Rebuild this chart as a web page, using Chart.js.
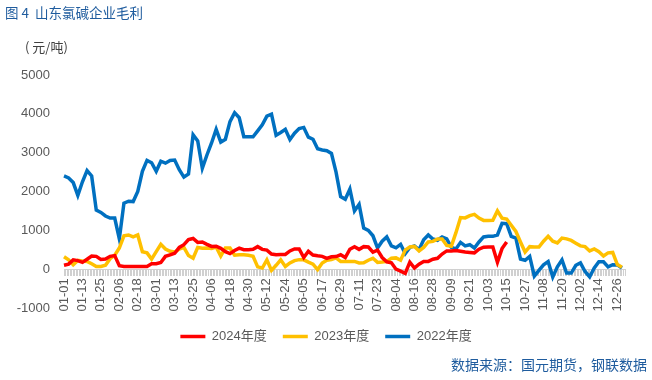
<!DOCTYPE html>
<html>
<head>
<meta charset="utf-8">
<script src="https://cdn.jsdelivr.net/npm/chart.js@4.4.1/dist/chart.umd.min.js"></script>
<style>
  html, body { margin: 0; padding: 0; background: #fff; }
  #wrap { position: relative; width: 652px; height: 380px; }
  #wrap canvas { position: absolute; left: 0; top: 0; }
  .txt { position: absolute; white-space: nowrap; font-family: "Noto Sans CJK SC", sans-serif; line-height: 1; }
  #title { left: 5px; top: 6px; font-size: 13.5px; color: #1F5C9E; }
  #unit { left: 25px; top: 40px; font-size: 13px; color: #404040; }
  #source { right: 5px; top: 357px; font-size: 14px; color: #1F5C9E; }
</style>
</head>
<body>
<div id="wrap">
  <canvas id="chart" width="652" height="380"></canvas>
  <div class="txt" id="title">图 4&nbsp; 山东氯碱企业毛利</div>
  <div class="txt" id="unit">( 元/吨)</div>
  <div class="txt" id="source">数据来源：国元期货，钢联数据</div>
</div>
<script>
// values read every 3 days, starting 01-01
const STEP = 3;
const monthDays = [31, 29, 31, 30, 31, 30, 31, 31, 30, 31, 30, 31];
const seriesNames = ['2024年度', '2023年度', '2022年度'];

const red2024 = [
  100, 130, 240, 220, 175, 255, 340, 330, 250, 260,
  330, 350, 90, 70, 70, 70, 70, 70, 70, 140,
  140, 170, 330, 370, 410, 560, 630, 760, 790, 690,
  700, 640, 585, 590, 535, 450, 400, 480, 540, 500,
  500, 510, 580, 510, 490, 390, 370, 380, 380, 470,
  520, 520, 300, 460, 365, 345, 330, 280, 320, 325,
  370, 300, 515, 580, 510, 580, 570, 440, 490, 300,
  190, 165, 0, -50, -110, 180, 30, 130, 200, 200,
  255, 280, 390, 470, 470, 480, 460, 440, 430, 420,
  515, 565, 570, 570, 180, 530, 700
];

const yellow2023 = [
  320, 240, 115, 225, 210, 200, 140, 70, 70, 100,
  270, 360, 545, 860, 880, 830, 880, 450, 420, 260,
  450, 640, 520, 460, 440, 520, 560, 350, 280, 560,
  540, 545, 530, 570, 335, 545, 545, 360, 370, 370,
  360, 330, 60, 30, 240, -30, 100, 240, 70, 160,
  220, 245, 240, 180, 130, -10, 160, 230, 250, 290,
  200, 200, 200, 200, 160, 165, 230, 280, 175, 185,
  200, 280, 290, 230, 490, 570, 585, 470, 560, 700,
  715, 775, 775, 610, 590, 940, 1330, 1320, 1380, 1410,
  1315, 1255, 1255, 1260, 1500, 1315, 1290, 1130, 970, 700,
  440, 580, 570, 570, 720, 845, 720, 675, 800, 780,
  740, 670, 600, 580, 470, 520, 450, 340, 420, 430,
  120, 50
];

const blue2022 = [
  2400, 2350, 2230, 1900, 2250, 2540, 2400, 1520, 1460, 1370,
  1315, 1315, 780, 1700, 1750, 1740, 2000, 2520, 2800, 2740,
  2520, 2780, 2730, 2800, 2810, 2560, 2370, 2450, 3460, 3300,
  2600, 2940, 3250, 3600, 3270, 3345, 3800, 4030, 3900, 3410,
  3410, 3410, 3560, 3715, 3940, 3990, 3450, 3520, 3600, 3340,
  3500, 3620, 3650, 3400, 3345, 3100, 3070, 3050, 2980, 2500,
  1870, 1800, 2060, 1500, 1670, 1060, 1000, 860, 545, 720,
  830, 600, 550, 640, 400, 560, 600, 500, 760, 880,
  775, 745, 830, 780, 560, 520, 690, 600, 630, 545,
  700, 830, 845, 845, 880, 1180, 1170, 845, 800, 260,
  230, 330, -180, -30, 110, 195, -200, 60, 240, -100,
  -100, 100, 160, -60, -200, 30, 190, 190, 60, 115,
  110, 30
];

const days = [];
monthDays.forEach((n, m) => {
  for (let d = 1; d <= n; d++) {
    days.push(String(m + 1).padStart(2, '0') + '-' + String(d).padStart(2, '0'));
  }
});

// put each reading on its day, the days in between stay empty
function spread(vals) {
  return days.map((_, i) => (i % STEP === 0 && i / STEP < vals.length) ? vals[i / STEP] : null);
}

Chart.defaults.font.family = '"Liberation Sans", "Noto Sans CJK SC", sans-serif';
Chart.defaults.font.size = 13;
Chart.defaults.color = '#595959';

const legendNudge = {
  id: 'legendNudge',
  afterLayout(chart) {
    chart.legend.top += 6;
    chart.legend.bottom += 6;
  }
};

function line(label, vals, color) {
  return {
    label: label,
    data: spread(vals),
    borderColor: color,
    backgroundColor: color,
    borderWidth: 3.5,
    pointRadius: 0,
    spanGaps: true,
    tension: 0
  };
}

new Chart(document.getElementById('chart').getContext('2d'), {
  type: 'line',
  data: {
    labels: days,
    datasets: [
      line(seriesNames[0], red2024, '#FF0000'),
      line(seriesNames[1], yellow2023, '#FFC000'),
      line(seriesNames[2], blue2022, '#0070C0')
    ]
  },
  options: {
    responsive: false,
    animation: false,
    layout: { padding: { top: 75, left: 0, right: 0, bottom: 33 } },
    plugins: {
      legend: {
        position: 'bottom',
        labels: {
          usePointStyle: true,
          pointStyle: 'line',
          pointStyleWidth: 25,
          padding: 16,
          color: '#595959',
          font: { size: 13 }
        }
      },
      tooltip: { enabled: false }
    },
    scales: {
      x: {
        position: { y: 0 },
        grid: { drawOnChartArea: false, drawTicks: true, tickLength: 6, color: '#D0D0D0' },
        border: { display: true, color: '#D0D0D0' },
        ticks: {
          autoSkip: false,
          minRotation: 90,
          maxRotation: 90,
          padding: 3,
          callback: function (v, i) { return i % 12 === 0 ? this.getLabelForValue(v) : ''; }
        },
        afterFit: (s) => { s.paddingLeft = 0; s.paddingRight = 27; }
      },
      y: {
        min: -1000,
        max: 5000,
        ticks: { stepSize: 1000, padding: 14, callback: (v) => String(v) },
        grid: { display: false, drawTicks: false },
        border: { display: false },
        afterFit: (s) => { s.width = 64; }
      }
    }
  },
  plugins: [legendNudge]
});
</script>
</body>
</html>
